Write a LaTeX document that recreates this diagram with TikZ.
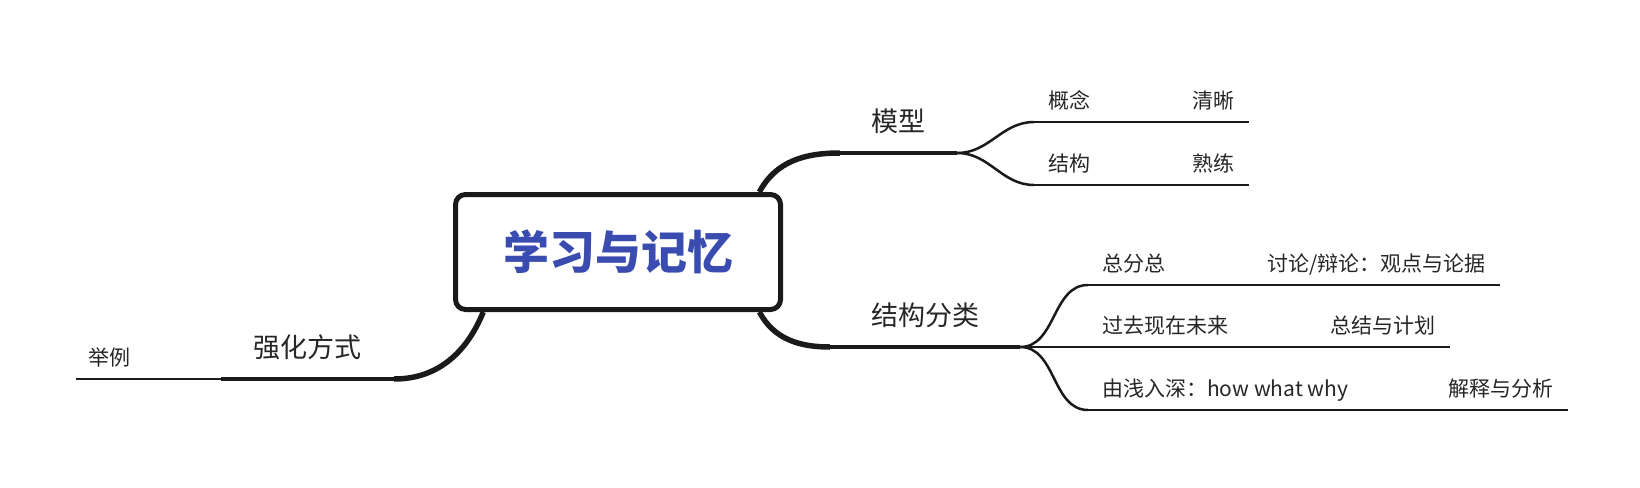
\documentclass[tikz,border=0pt]{standalone}
\usepackage{fontspec}
\setmainfont{Noto Sans CJK SC}
\usepackage{tikz}
\usetikzlibrary{positioning,backgrounds}
\definecolor{title}{RGB}{58, 76, 176}
\definecolor{ink}{RGB}{38, 38, 38}
\definecolor{branch}{RGB}{26, 26, 26}
\tikzstyle{root} = [rectangle, rounded corners=10pt, draw=branch, line width=5pt, fill=white, text=title, font=\bfseries\fontsize{46}{50}\selectfont, minimum width=325pt, minimum height=115pt]
\tikzstyle{topic} = [inner xsep=0pt, inner ysep=21pt, text=ink, font=\fontsize{27}{30}\selectfont, text height=22pt, text depth=0pt]
\tikzstyle{subtopic} = [inner xsep=14pt, inner ysep=13pt, text=ink, font=\fontsize{21}{24}\selectfont, text height=17pt, text depth=0pt]
\tikzstyle{medge} = [draw=branch, line width=5.5pt]
\tikzstyle{tline} = [draw=branch, line width=4.5pt]
\tikzstyle{sedge} = [draw=branch, line width=2.5pt]

\begin{document}
\begin{tikzpicture}[x=1pt, y=-1pt]
\useasboundingbox (0,0) rectangle (1640,487);

% root
\node[root] (root) at (618,252) {学习与记忆};

% topics =============================

% main branches
\node[topic, anchor=south, minimum width=117pt] (moxing) at (898.5,153) {模型};
\node[topic, anchor=south, minimum width=190pt] (fenlei) at (925,347) {结构分类};
\node[topic, anchor=south, minimum width=173pt] (qianghua) at (307.5,379) {强化方式};

% under 模型
\node[subtopic, anchor=south west] (gainian) at (1034,122) {概念};
\node[subtopic, right=74pt of gainian] (qingxi) {清晰};
\node[subtopic, anchor=south west] (jiegou) at (1034,185) {结构};
\node[subtopic, right=74pt of jiegou] (shulian) {熟练};

% under 结构分类
\node[subtopic, anchor=south west] (zfz) at (1088,285) {总分总};
\node[subtopic, right=74pt of zfz] (taolun) {讨论/辩论：观点与论据};
\node[subtopic, anchor=south west] (guoqu) at (1088,347) {过去现在未来};
\node[subtopic, right=74pt of guoqu] (zongjie) {总结与计划};
\node[subtopic, anchor=south west] (youqian) at (1088,410) {由浅入深：how what why};
\node[subtopic, right=72pt of youqian] (jieshi) {解释与分析};

% under 强化方式
\node[subtopic, anchor=south west, inner xsep=12pt] (juli) at (76,379) {举例};

%edges
\begin{pgfonlayer}{background}
\path[medge] (root.23) to[out=62, in=180] (moxing.south west);
\path[medge] (root.-23) to[out=-62, in=180] (fenlei.south west);
\path[medge] (root.204) to[out=-112, in=0] (qianghua.south east);
\end{pgfonlayer}

\path[tline] (moxing.south west) -- (moxing.south east);
\path[tline] (fenlei.south west) -- (fenlei.south east);
\path[tline] (qianghua.south west) -- (qianghua.south east);

\path[sedge] (moxing.south east) to[out=0, in=180] (gainian.south west);
\path[sedge] (moxing.south east) to[out=0, in=180] (jiegou.south west);
\path[sedge] (fenlei.south east) to[out=0, in=180] (zfz.south west);
\path[sedge] (fenlei.south east) -- (guoqu.south west);
\path[sedge] (fenlei.south east) to[out=0, in=180] (youqian.south west);
\path[sedge] (qianghua.south west) -- (juli.south east);

\foreach \n/\m in {gainian/qingxi, jiegou/shulian, zfz/taolun, guoqu/zongjie, youqian/jieshi}
  \path[sedge] (\n.south west) -- (\m.south east);
\path[sedge] (juli.south west) -- (juli.south east);

\end{tikzpicture}
\end{document}
